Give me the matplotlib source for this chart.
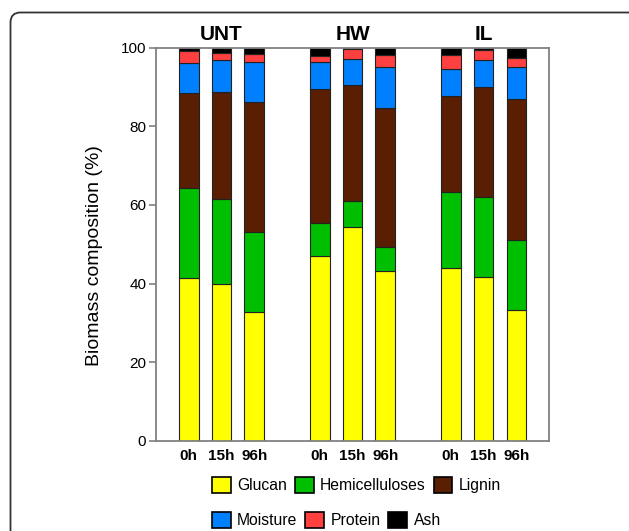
import matplotlib
matplotlib.use("Agg")
import matplotlib.pyplot as plt
from matplotlib.patches import FancyBboxPatch, Patch
import numpy as np

plt.rcParams['font.family'] = ['Liberation Sans', 'DejaVu Sans']

# Group / time labels
groups = ["UNT", "HW", "IL"]
times = ["0h", "15h", "96h"]

# Composition (%) per bar, order: UNT 0h,15h,96h, HW 0h,15h,96h, IL 0h,15h,96h
glucan = [41.5, 40.0, 32.8, 47.0, 54.3, 43.3, 44.0, 41.7, 33.2]
hemicelluloses = [22.8, 21.6, 20.2, 8.5, 6.8, 6.1, 19.4, 20.3, 17.9]
lignin = [24.1, 27.1, 33.3, 34.0, 29.4, 35.3, 24.3, 28.1, 35.9]
moisture = [7.7, 8.2, 10.2, 7.0, 6.7, 10.4, 6.9, 6.9, 8.1]
protein = [3.0, 1.9, 1.9, 1.5, 2.5, 3.1, 3.5, 2.5, 2.2]
ash = [0.9, 1.2, 1.6, 2.0, 0.3, 1.8, 1.9, 0.5, 2.7]

components = ["Glucan", "Hemicelluloses", "Lignin", "Moisture", "Protein", "Ash"]
values = [glucan, hemicelluloses, lignin, moisture, protein, ash]
colors = ["#FFFF00", "#00BF00", "#5A1E02", "#0080FF", "#FF4040", "#000000"]

# bar positions: three bars per group, one empty slot between groups
x = np.array([g * 4 + t for g in range(len(groups)) for t in range(len(times))])

fig = plt.figure(figsize=(6.29, 5.31), dpi=100)
ax = fig.add_axes([0.248, 0.170, 0.625, 0.740])

bottom = np.zeros(len(x))
for name, vals, col in zip(components, values, colors):
    vals = np.array(vals)
    ax.bar(x, vals, width=0.6, bottom=bottom, color=col,
           edgecolor="#222222", linewidth=0.8, label=name)
    bottom += vals

ax.set_xlim(-1, 11)
ax.set_ylim(0, 100)
ax.set_yticks([0, 20, 40, 60, 80, 100])
ax.set_xticks(x)
ax.set_xticklabels(times * len(groups), fontweight="bold", fontsize=11)
ax.tick_params(axis="x", length=0, pad=6)
ax.tick_params(axis="y", length=5, width=1.2, color="#808080", labelsize=11, pad=2)
for sp in ax.spines.values():
    sp.set_color("#808080")
    sp.set_linewidth(1.3)
ax.set_ylabel("Biomass composition (%)", fontsize=14)
ax.yaxis.set_label_coords(-0.135, 0.47)

for g, name in enumerate(groups):
    ax.text(g * 4 + 1, 100.9, name, ha="center", va="bottom",
            fontsize=15, fontweight="bold", clip_on=False)

# two-row legend, left aligned
handles = [Patch(facecolor=c, edgecolor="black", linewidth=1.2) for c in colors]
leg_kw = dict(frameon=False, fontsize=11.3, handlelength=1.2, handleheight=1.2,
              handletextpad=0.4, columnspacing=0.5, borderpad=0, borderaxespad=0,
              loc="upper left", bbox_transform=fig.transFigure)
fig.legend(handles[:3], components[:3], ncol=3,
           bbox_to_anchor=(212 / 629, 1 - 477 / 531), **leg_kw)
fig.legend(handles[3:], components[3:], ncol=3,
           bbox_to_anchor=(212 / 629, 1 - 512 / 531), **leg_kw)

# rounded outer frame (runs off right and bottom)
frame = FancyBboxPatch((0.105, -0.5), 7.0, 5.185 + 0.5,
                       boxstyle="round,pad=0,rounding_size=0.1",
                       transform=fig.dpi_scale_trans, facecolor="none",
                       edgecolor="#333333", linewidth=1.3)
fig.patches.append(frame)

fig.savefig("out.png", dpi=100)
